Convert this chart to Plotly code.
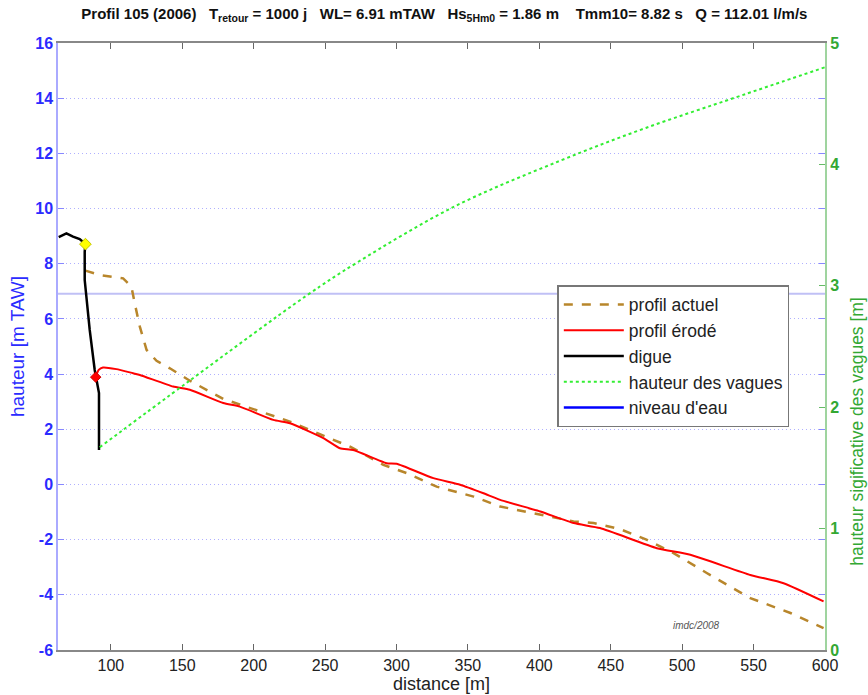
import plotly.graph_objects as go

# ---- data ----
digue_x = [63.5, 68.9, 73.5, 78.2, 82.2, 81.7, 81.7, 85.2, 88.7, 91.7, 91.7]
digue_y = [8.96, 9.10, 8.98, 8.89, 8.71, 8.44, 7.41, 5.60, 4.15, 3.31, 1.25]

actuel_x = [82.2, 85.2, 92.2, 108.6, 114.4, 116.7, 120.3, 125.0, 132.0, 141.3, 155.3, 178.7,
            202.0, 225.4, 248.8, 267.5, 290.8, 307.1, 328.1, 354.0, 372.6, 400.7, 424.0,
            438.0, 456.6, 475.0, 494.0, 517.2, 547.7, 575.8, 599.0]
actuel_y = [7.75, 7.71, 7.59, 7.47, 7.17, 6.57, 5.72, 4.88, 4.48, 4.21, 3.76, 3.10,
            2.70, 2.28, 1.77, 1.37, 0.71, 0.41, -0.08, -0.44, -0.80, -1.10, -1.34,
            -1.40, -1.62, -2.00, -2.49, -3.21, -4.12, -4.66, -5.21]

erode_x = [89.4, 91.5, 94.5, 103.9, 115.6, 120.3, 143.6, 155.3, 178.7, 190.3, 213.7, 225.4,
           248.8, 260.4, 269.7, 293.0, 300.1, 325.8, 344.5, 360.9, 372.6, 400.7, 424.0,
           442.5, 482.3, 505.7, 547.7, 571.0, 599.0]
erode_y = [3.89, 4.15, 4.24, 4.18, 4.03, 3.97, 3.55, 3.43, 2.95, 2.82, 2.34, 2.22,
           1.68, 1.31, 1.25, 0.77, 0.75, 0.23, -0.01, -0.32, -0.56, -0.98, -1.40,
           -1.58, -2.31, -2.55, -3.28, -3.58, -4.24]

vagues_x = [92.2, 155.3, 237.1, 272.2, 340.0, 414.5, 474.5, 537.0, 569.7, 600.0]
vagues_y = [1.67, 2.22, 2.92, 3.19, 3.65, 4.03, 4.30, 4.55, 4.68, 4.80]

niveau = 6.91
crete = (82.2, 8.71)
pied = (89.4, 3.89)

x_range = [63, 600]
y_range = [-6, 16]
y2_range = [0, 5]
x_ticks = [100, 150, 200, 250, 300, 350, 400, 450, 500, 550, 600]
y_ticks = [-6, -4, -2, 0, 2, 4, 6, 8, 10, 12, 14, 16]
y2_ticks = [0, 1, 2, 3, 4, 5]

FONT = "Arial, Liberation Sans, sans-serif"
BLUE = "#2b2bff"
GREEN = "#33a833"

fig = go.Figure()

# water level line (pale on plot) + legend stand-in
fig.add_trace(go.Scatter(x=x_range, y=[niveau, niveau], mode="lines",
                         line=dict(color="rgba(90,90,230,0.38)", width=2),
                         showlegend=False, hoverinfo="skip"))

fig.add_trace(go.Scatter(x=actuel_x, y=actuel_y, mode="lines", name="profil actuel",
                         line=dict(color="#b8862b", width=2.5, dash="dash")))
fig.add_trace(go.Scatter(x=erode_x, y=erode_y, mode="lines", name="profil érodé",
                         line=dict(color="#ff0000", width=2, shape="spline", smoothing=0.5)))
fig.add_trace(go.Scatter(x=digue_x, y=digue_y, mode="lines", name="digue",
                         line=dict(color="#000000", width=2.5)))
fig.add_trace(go.Scatter(x=vagues_x, y=vagues_y, mode="lines", name="hauteur des vagues",
                         line=dict(color="#33ee33", width=2, dash="dot", shape="spline"),
                         yaxis="y2"))
fig.add_trace(go.Scatter(x=[None], y=[None], mode="lines", name="niveau d'eau",
                         line=dict(color="#0000ff", width=2.5)))

fig.add_trace(go.Scatter(x=[crete[0]], y=[crete[1]], mode="markers", showlegend=False,
                         marker=dict(symbol="diamond", size=9, color="#ffff00",
                                     line=dict(color="#c8c800", width=1))))
fig.add_trace(go.Scatter(x=[pied[0]], y=[pied[1]], mode="markers", showlegend=False,
                         marker=dict(symbol="diamond", size=8, color="#ff0000",
                                     line=dict(color="#cc0000", width=1))))

fig.add_annotation(x=510, y=-5.12, text="<i>imdc/2008</i>", showarrow=False,
                   font=dict(family=FONT, size=10, color="#555555"))

# right axis title (placed as in the reference)
fig.add_annotation(xref="paper", yref="paper", x=1.042, y=0.36,
                   text="hauteur sigificative des vagues [m]", textangle=-90,
                   showarrow=False, xanchor="center", yanchor="middle",
                   font=dict(family=FONT, size=17.5, color=GREEN))

title = ("<b>Profil 105 (2006)   T<sub>retour</sub> = 1000 j   WL= 6.91 mTAW   "
         "Hs<sub>5Hm0</sub> = 1.86 m    Tmm10= 8.82 s   Q = 112.01 l/m/s</b>")

fig.update_layout(
    width=868, height=695,
    margin=dict(l=58, r=43, t=43, b=45),
    paper_bgcolor="white", plot_bgcolor="white",
    font=dict(family=FONT, size=15, color="#222222"),
    title=dict(text=title, x=0.512, xanchor="center", y=0.988, yanchor="top",
               font=dict(family=FONT, size=15, color="#111111")),
    showlegend=True,
    legend=dict(x=0.651, y=0.601, xanchor="left", yanchor="top",
                bgcolor="white", bordercolor="#777777", borderwidth=1.5,
                font=dict(family=FONT, size=17.5, color="#222222"),
                tracegroupgap=0, itemwidth=60),
    xaxis=dict(range=x_range, tickvals=x_ticks, showgrid=False, zeroline=False,
               automargin=False,
               showline=True, linecolor="#888888", linewidth=1.5, mirror="ticks",
               ticks="inside", ticklen=6, tickcolor="#666666",
               tickfont=dict(size=16, color="#222222"),
               title=dict(text="distance [m]", standoff=2,
                          font=dict(size=18, color="#222222"))),
    yaxis=dict(range=y_range, tickvals=y_ticks, ticktext=[str(v) for v in y_ticks],
               zeroline=False, automargin=False,
               showgrid=True, gridcolor="#b0b0ff", griddash="1px,3px", gridwidth=1,
               showline=True, linecolor="#aaaaff", linewidth=1.5, mirror="ticks",
               ticks="inside", ticklen=6, tickcolor="#8888ff",
               tickfont=dict(size=16, color=BLUE, weight="bold"),
               title=dict(text="hauteur [m TAW]", standoff=6,
                          font=dict(size=19, color=BLUE))),
    yaxis2=dict(range=y2_range, tickvals=y2_ticks, overlaying="y", side="right",
                automargin=False,
                showgrid=False, zeroline=False, showline=True, linecolor="#9fd49f",
                linewidth=2, ticks="inside", ticklen=6, tickcolor="#66bb66",
                tickfont=dict(size=16, color=GREEN, weight="bold")),
)

fig.write_html("out.html")
